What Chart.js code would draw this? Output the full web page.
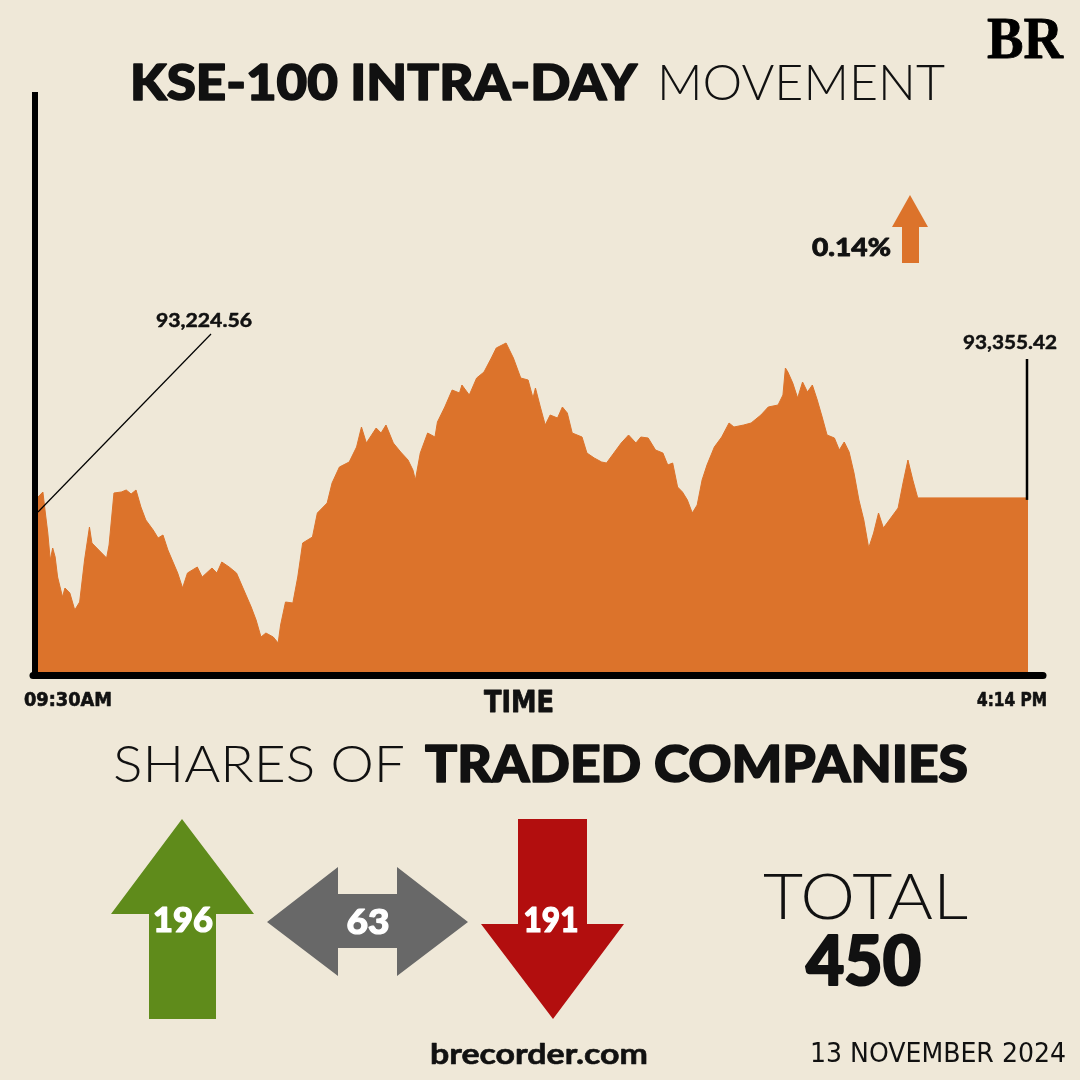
<!DOCTYPE html>
<html>
<head>
<meta charset="utf-8">
<script src="https://cdn.jsdelivr.net/npm/chart.js@4"></script>
<style>
  html, body { margin: 0; padding: 0; background: #EFE8D8; }
  #wrap { width: 1080px; height: 1080px; position: relative; }
  canvas { display: block; }
</style>
</head>
<body>
<div id="wrap"><canvas id="c" width="1080" height="1080"></canvas></div>
<script>
// ---- DATA ----
// minutes after 09:30 open
const minutes = [0,2,3,4,5,6,7,8,10,11,13,15,17,19,21,22,24,26,28,29,31,34,36,38,40,42,44,47,49,51,53,57,59,61,65,67,71,73,75,78,81,84,87,89,91,93,96,98,99,101,104,106,108,112,114,118,120,123,127,130,132,134,138,140,142,145,148,151,153,154,156,159,162,163,166,169,172,173,176,179,182,185,187,191,194,197,200,202,203,205,207,209,212,214,216,218,222,224,227,230,232,235,238,241,244,246,249,252,255,257,259,261,263,265,267,269,271,273,276,279,282,284,288,291,295,298,302,304,305,306,308,310,312,314,316,318,320,322,325,327,329,331,333,335,337,339,341,343,345,348,351,353,355,357,359,404];
// KSE-100 index level
const values = [93359,93379,93295,93215,93107,93155,93119,93039,92959,92995,92975,92907,92939,93107,93239,93175,93155,93135,93115,93167,93375,93379,93387,93371,93387,93319,93267,93227,93195,93207,93147,93055,92995,93055,93079,93039,93075,93055,93099,93079,93055,92987,92919,92867,92799,92815,92799,92775,92847,92939,92935,93039,93175,93199,93295,93335,93415,93479,93499,93559,93639,93575,93635,93615,93647,93575,93539,93507,93467,93427,93535,93615,93599,93659,93719,93787,93775,93807,93767,93835,93859,93915,93955,93975,93915,93835,93827,93755,93795,93719,93647,93687,93675,93719,93695,93615,93599,93535,93515,93499,93495,93535,93575,93607,93575,93599,93595,93547,93535,93487,93495,93399,93379,93347,93295,93327,93427,93487,93559,93599,93655,93639,93647,93655,93687,93719,93727,93767,93875,93859,93815,93755,93819,93779,93807,93747,93679,93607,93595,93547,93579,93539,93455,93347,93267,93155,93215,93295,93235,93275,93315,93415,93507,93427,93355.42,93355.42];
const timeTicks = ['09:30AM', '4:14 PM'];
const axisTitle = 'TIME';
const openLabel = '93,224.56';
const closeLabel = '93,355.42';
const changeLabel = '0.14%';
const advanced = 196, unchanged = 63, declined = 191, totalTraded = 450;
const dateLabel = '13 NOVEMBER 2024';

const BG = '#EFE8D8', ORANGE = '#DC732B', INK = '#111111';
const GREEN = '#5F8B1B', GREY = '#686868', RED = '#B20E0E';

function txt(ctx, s, x, y, font, opts = {}) {
  ctx.save();
  ctx.font = font;
  const w = ctx.measureText(s).width;
  const tw = opts.w || w;
  let left = x;
  if (opts.align === 'center') left = x - tw / 2;
  else if (opts.align === 'right') left = x - tw;
  ctx.translate(left, y);
  if (opts.w) ctx.scale(opts.w / w, 1);
  ctx.fillStyle = opts.color || INK;
  ctx.textAlign = 'left';
  ctx.textBaseline = 'alphabetic';
  if (opts.stroke) {
    ctx.strokeStyle = opts.color || INK;
    ctx.lineWidth = opts.stroke;
    ctx.lineJoin = 'round';
    ctx.strokeText(s, 0, 0);
  }
  ctx.fillText(s, 0, 0);
  ctx.restore();
}
function poly(ctx, pts, color) {
  ctx.save();
  ctx.beginPath();
  ctx.moveTo(pts[0][0], pts[0][1]);
  for (let i = 1; i < pts.length; i++) ctx.lineTo(pts[i][0], pts[i][1]);
  ctx.closePath();
  ctx.fillStyle = color;
  ctx.fill();
  ctx.restore();
}

const BOLD = "'Lato', 'Open Sans', sans-serif";
const COND = "'DejaVu Sans Condensed', 'Liberation Sans Narrow', 'DejaVu Sans', sans-serif";

const decor = {
  id: 'decor',
  beforeDraw(chart) {
    const ctx = chart.ctx;
    ctx.save();
    ctx.fillStyle = BG;
    ctx.fillRect(0, 0, chart.width, chart.height);
    ctx.restore();
  },
  afterDraw(chart) {
    const ctx = chart.ctx;
    const xs = chart.scales.x, ys = chart.scales.y;

    // axes
    ctx.save();
    ctx.strokeStyle = '#000';
    ctx.lineWidth = 6;
    ctx.lineCap = 'butt';
    ctx.beginPath(); ctx.moveTo(35, 92); ctx.lineTo(35, 678); ctx.stroke();
    ctx.lineWidth = 7;
    ctx.lineCap = 'round';
    ctx.beginPath(); ctx.moveTo(33, 675.5); ctx.lineTo(1043, 675.5); ctx.stroke();
    ctx.restore();

    // open leader line
    const x0 = xs.getPixelForValue(minutes[0]);
    ctx.save();
    ctx.strokeStyle = '#000';
    ctx.lineWidth = 1.2;
    ctx.beginPath(); ctx.moveTo(211, 334); ctx.lineTo(x0, 512); ctx.stroke();
    // close marker
    const xe = xs.getPixelForValue(minutes[minutes.length - 1]);
    const ye = ys.getPixelForValue(values[values.length - 1]);
    ctx.lineWidth = 2.5;
    ctx.beginPath(); ctx.moveTo(xe - 1, 359); ctx.lineTo(xe - 1, ye + 2); ctx.stroke();
    ctx.restore();

    txt(ctx, openLabel, 156, 327, `bold 19px ${BOLD}`, { w: 96, stroke: 0.5 });
    txt(ctx, closeLabel, 963, 349, `bold 19px ${BOLD}`, { w: 94, stroke: 0.5 });

    // change
    txt(ctx, changeLabel, 812, 256, `900 25px ${BOLD}`, { w: 79, stroke: 0.8 });
    poly(ctx, [[910,195],[928,227],[919,227],[919,263],[902,263],[902,227],[892,227]], ORANGE);

    // title
    txt(ctx, 'KSE-100 INTRA-DAY', 130, 100, `900 50px ${BOLD}`, { w: 507, stroke: 1.6 });
    txt(ctx, 'MOVEMENT', 657, 100, `300 50px ${BOLD}`, { w: 288 });

    // logo
    txt(ctx, 'BR', 987, 58, `bold 60px 'Liberation Serif', serif`, { w: 76, color: '#000', stroke: 0.8 });

    // axis labels
    txt(ctx, timeTicks[0], 24, 706, `bold 19px ${COND}`, { w: 88, stroke: 0.6 });
    txt(ctx, timeTicks[1], 977, 706, `bold 19px ${COND}`, { w: 70, stroke: 0.6 });
    txt(ctx, axisTitle, 484, 712, `bold 31px ${COND}`, { w: 70, stroke: 0.8 });

    // section title
    txt(ctx, 'SHARES OF', 113, 782, `300 51px ${BOLD}`, { w: 292 });
    txt(ctx, 'TRADED COMPANIES', 425, 782, `900 51px ${BOLD}`, { w: 543, stroke: 1.6 });

    // arrows
    poly(ctx, [[182,819],[254,914],[216,914],[216,1019],[149,1019],[149,914],[111,914]], GREEN);
    poly(ctx, [[267,922],[338,867],[338,894],[397,894],[397,867],[468,922],[397,976],[397,948],[338,948],[338,976]], GREY);
    poly(ctx, [[518,819],[587,819],[587,924],[624,924],[553,1019],[481,924],[518,924]], RED);
    txt(ctx, String(advanced), 183, 932, `900 35px ${BOLD}`, { w: 60, align: 'center', color: '#fff', stroke: 1.2 });
    txt(ctx, String(unchanged), 368, 934, `900 35px ${BOLD}`, { w: 43, align: 'center', color: '#fff', stroke: 1.2 });
    txt(ctx, String(declined), 551, 932, `900 35px ${BOLD}`, { w: 55, align: 'center', color: '#fff', stroke: 1.2 });

    // total
    txt(ctx, 'TOTAL', 763, 919, `300 64px ${BOLD}`, { w: 205 });
    txt(ctx, String(totalTraded), 806, 985, `900 68px ${BOLD}`, { w: 115, stroke: 2.2 });

    // footer
    txt(ctx, 'brecorder.com', 430, 1064, `bold 29px ${BOLD}`, { w: 218, stroke: 0.6 });
    txt(ctx, dateLabel, 810, 1062, `26px ${COND}`, { w: 256 });
  }
};

new Chart(document.getElementById('c'), {
  type: 'line',
  data: {
    datasets: [{
      data: minutes.map((m, i) => ({ x: m, y: values[i] })),
      fill: 'start',
      backgroundColor: ORANGE,
      borderColor: ORANGE,
      borderWidth: 1,
      pointRadius: 0,
      tension: 0
    }]
  },
  options: {
    responsive: false,
    animation: false,
    events: [],
    layout: { padding: { left: 38, right: 52, top: 92, bottom: 408 } },
    plugins: { legend: { display: false }, tooltip: { enabled: false } },
    scales: {
      x: { type: 'linear', min: 0, max: 404, display: false },
      y: { min: 92659, max: 94979, display: false }
    }
  },
  plugins: [decor]
});
</script>
</body>
</html>
